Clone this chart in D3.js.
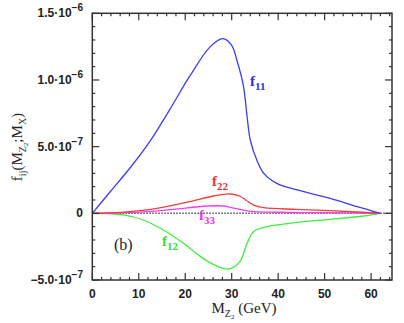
<!DOCTYPE html>
<html>
<head>
<meta charset="utf-8">
<script src="https://cdn.jsdelivr.net/npm/d3@7"></script>
<style>
body { margin: 0; background: #fff; }
svg text { fill: #222; }
</style>
</head>
<body>
<div id="chart"></div>
<script>
// values in units of 1e-7, x in GeV
var xF11 = [0, 3.8, 8.1, 12.4, 16.7, 21.0, 25.4, 28.1, 30.0, 31.1, 32.5, 33.3, 34.0, 35.4, 36.9, 39.7, 44.1, 51.2, 57.0, 62.0];
var yF11 = [0, 1.6, 3.4, 5.4, 7.8, 10.3, 12.5, 13.1, 12.6, 11.5, 9.6, 7.3, 5.5, 4.0, 3.0, 2.25, 1.75, 1.12, 0.5, 0];

var xF22 = [0, 4, 8, 13.9, 20.9, 26.1, 29.7, 31.8, 33.0, 34.7, 36.9, 44, 51.2, 57, 62.0];
var yF22 = [0, 0.03, 0.12, 0.37, 0.87, 1.3, 1.45, 1.28, 1.0, 0.62, 0.42, 0.3, 0.2, 0.1, 0];

var xF33 = [0, 6, 12, 17.5, 24.7, 28.2, 29.7, 32, 34.0, 40, 50, 62.0];
var yF33 = [0, 0.03, 0.12, 0.3, 0.55, 0.55, 0.45, 0.28, 0.15, 0.08, 0.05, 0];

var xF12 = [0, 3, 6.7, 11.0, 15.3, 19.6, 23.9, 27.5, 29.3, 31.8, 33.3, 34.7, 36.9, 44.1, 51.2, 58.4, 62.0];
var yF12 = [0, -0.03, -0.12, -0.5, -1.25, -2.25, -3.4, -4.05, -4.18, -3.6, -2.25, -1.38, -1.05, -0.68, -0.45, -0.2, 0];

var xTicks = [0, 10, 20, 30, 40, 50, 60];
var yTicks = [
  {v: -5, m: "-5.0", e: "-7"},
  {v: 0, m: "0", e: null},
  {v: 5, m: "5.0", e: "-7"},
  {v: 10, m: "1.0", e: "-6"},
  {v: 15, m: "1.5", e: "-6"}
];

var width = 404, height = 323;
var margin = {left: 92.3, right: 12, top: 13.3, bottom: 43};

var svg = d3.select("#chart").append("svg")
  .attr("width", width).attr("height", height);

var x = d3.scaleLinear().domain([0, 64.5]).range([margin.left, width - margin.right]);
var y = d3.scaleLinear().domain([-5, 15]).range([height - margin.bottom, margin.top]);

var x0 = x.range()[0], x1 = x.range()[1], y0 = y.range()[0], y1 = y.range()[1];

// zero line
svg.append("line")
  .attr("x1", x0).attr("x2", x1)
  .attr("y1", y(0)).attr("y2", y(0))
  .attr("stroke", "#555").attr("stroke-width", 1.5)
  .attr("stroke-dasharray", "1.5,1.5");

var line = d3.line()
  .x(d => x(d[0]))
  .y(d => y(d[1]))
  .curve(d3.curveCatmullRom.alpha(0.5));

var series = [
  {xs: xF12, ys: yF12, c: "#3df03d"},
  {xs: xF33, ys: yF33, c: "#f53cf5"},
  {xs: xF22, ys: yF22, c: "#f53c3c"},
  {xs: xF11, ys: yF11, c: "#3c3cf5"}
];

series.forEach(s => {
  svg.append("path")
    .datum(s.xs.map((v, i) => [v, s.ys[i]]))
    .attr("d", line)
    .attr("fill", "none")
    .attr("stroke", s.c)
    .attr("stroke-width", 1.3);
});

// frame
svg.append("rect")
  .attr("x", x0).attr("y", y1)
  .attr("width", x1 - x0).attr("height", y0 - y1)
  .attr("fill", "none").attr("stroke", "#333").attr("stroke-width", 1.5);

// ticks (inward, on all four sides)
var tk = svg.append("g").attr("stroke", "#333").attr("stroke-width", 1.2);
d3.range(0, 65, 2).forEach(v => {
  var len = v % 10 === 0 ? 7 : 3;
  tk.append("line").attr("x1", x(v)).attr("x2", x(v)).attr("y1", y0).attr("y2", y0 - len);
  tk.append("line").attr("x1", x(v)).attr("x2", x(v)).attr("y1", y1).attr("y2", y1 + len);
});
d3.range(-5, 16, 1).forEach(v => {
  var len = v % 5 === 0 ? 7 : 3;
  tk.append("line").attr("x1", x0).attr("x2", x0 + len).attr("y1", y(v)).attr("y2", y(v));
  tk.append("line").attr("x1", x1).attr("x2", x1 - len).attr("y1", y(v)).attr("y2", y(v));
});

// x tick labels
svg.append("g").selectAll("text").data(xTicks).enter().append("text")
  .attr("x", d => x(d)).attr("y", y0 + 18)
  .attr("text-anchor", "middle")
  .style("font", "bold 12px 'Liberation Sans', Arial, sans-serif")
  .text(d => d);

// y tick labels
var yl = svg.append("g").selectAll("text").data(yTicks).enter().append("text")
  .attr("x", 83).attr("y", d => y(d.v) + 4)
  .attr("text-anchor", "end")
  .style("font", "bold 12px 'Liberation Sans', Arial, sans-serif");
yl.each(function(d) {
  var t = d3.select(this);
  if (d.e === null) { t.text(d.m); return; }
  t.append("tspan").text(d.m.replace("-", "\u2212") + "\u00b710");
  t.append("tspan").attr("dy", -6).style("font-size", "10px").text(d.e.replace("-", "\u2212"));
});

// axis titles
var serif = "'Liberation Serif', 'DejaVu Serif', serif";
var xt = svg.append("text")
  .attr("x", 244).attr("y", 313)
  .attr("text-anchor", "middle")
  .style("font-family", serif).style("font-size", "15px");
xt.append("tspan").text("M");
xt.append("tspan").attr("dy", 4).style("font-size", "10px").text("Z");
xt.append("tspan").attr("dy", 2).style("font-size", "7px").text("2");
xt.append("tspan").attr("dy", -6).text("  (GeV)");

var yt = svg.append("text")
  .attr("transform", "translate(22,147) rotate(-90)")
  .attr("text-anchor", "middle")
  .style("font-family", serif).style("font-size", "15px");
yt.append("tspan").text("f");
yt.append("tspan").attr("dy", 4).style("font-size", "10px").text("ij");
yt.append("tspan").attr("dy", -4).text("(M");
yt.append("tspan").attr("dy", 4).style("font-size", "10px").text("Z");
yt.append("tspan").attr("dy", 2).style("font-size", "7px").text("2");
yt.append("tspan").attr("dy", -6).text(";M");
yt.append("tspan").attr("dy", 4).style("font-size", "10px").text("X");
yt.append("tspan").attr("dy", -4).text(")");

// curve labels
var labels = [
  {t: "f", s: "11", xp: 250, yp: 86, c: "#2c2cf0"},
  {t: "f", s: "22", xp: 212, yp: 186, c: "#f03030"},
  {t: "f", s: "33", xp: 199, yp: 220, c: "#f030f0"},
  {t: "f", s: "12", xp: 162, yp: 246, c: "#30e030"}
];
labels.forEach(l => {
  var t = svg.append("text")
    .attr("x", l.xp).attr("y", l.yp)
    .style("font-family", serif).style("font-weight", "bold").style("font-size", "15px")
    .style("fill", l.c);
  t.append("tspan").text(l.t);
  t.append("tspan").attr("dy", 4).style("font-size", "11px").text(l.s);
});

svg.append("text")
  .attr("x", 114).attr("y", 250)
  .style("font-family", serif).style("font-size", "16px")
  .text("(b)");
</script>
</body>
</html>
